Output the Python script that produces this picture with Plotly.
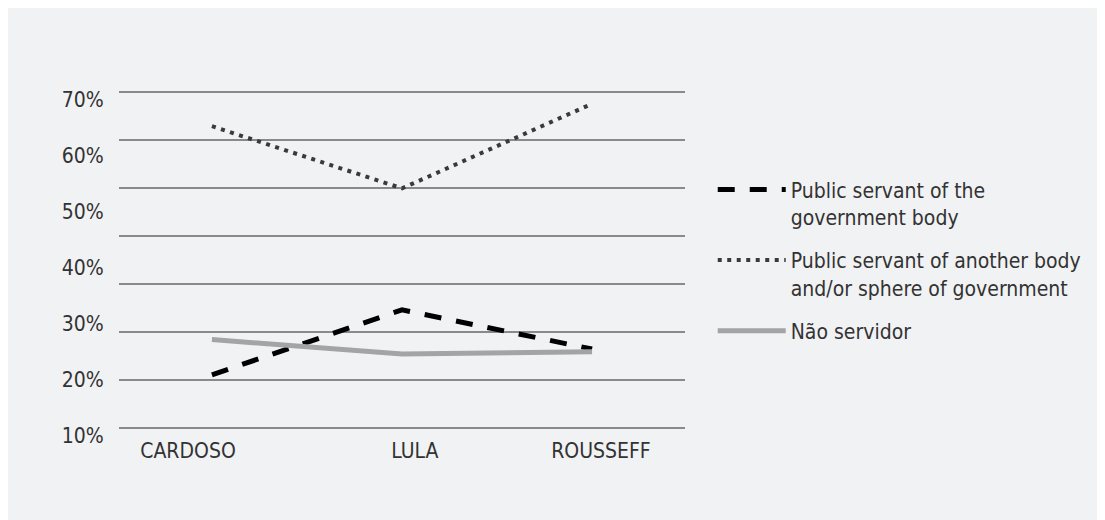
import plotly.graph_objects as go

categories = ["CARDOSO", "LULA", "ROUSSEFF"]
servant_same_body = [20.8, 32.4, 25.4]
servant_other_body = [65.2, 54.1, 69.2]
nao_servidor = [27.1, 24.5, 24.9]
y_ticks = [10, 20, 30, 40, 50, 60, 70]
y_labels = [f"{v}%" for v in y_ticks]
series_names = [
    "Public servant of the<br>government body",
    "Public servant of another body<br>and/or sphere of government",
    "Não servidor",
]

FONT = "DejaVu Sans Condensed, Liberation Sans Narrow, sans-serif"
TEXT = "#333333"
BG = "#f1f2f4"

xi = list(range(len(categories)))

fig = go.Figure()
fig.add_trace(go.Scatter(x=xi, y=servant_same_body, mode="lines", name=series_names[0],
                         legendgroup="g1",
                         line=dict(color="#000000", width=5, dash="17px,15px")))
fig.add_trace(go.Scatter(x=xi, y=servant_other_body, mode="lines", name=series_names[1],
                         legendgroup="g2",
                         line=dict(color="#3a3a3a", width=4, dash="4px,5.5px")))
fig.add_trace(go.Scatter(x=xi, y=nao_servidor, mode="lines", name=series_names[2],
                         legendgroup="g3",
                         line=dict(color="#a2a4a5", width=5)))

fig.update_layout(
    width=1100, height=514,
    margin=dict(l=111, r=423, t=72, b=86),
    paper_bgcolor=BG, plot_bgcolor=BG,
    font=dict(family=FONT, size=21, color=TEXT),
    showlegend=True,
    legend=dict(x=1.049, y=0.749, xanchor="left", yanchor="top",
                bgcolor="rgba(0,0,0,0)", valign="top",
                font=dict(family=FONT, size=21, color=TEXT),
                tracegroupgap=13, itemwidth=68),
    xaxis=dict(range=[-0.489, 2.489], showgrid=False, zeroline=False, showline=False,
               tickmode="array", tickvals=[-0.126, 1.068, 2.047], ticktext=categories,
               ticks="", ticklen=0),
    yaxis=dict(range=[9.875, 73.45], showgrid=False, zeroline=False, showline=False,
               tickmode="array", tickvals=y_ticks, ticktext=y_labels,
               ticks="outside", ticklen=10, tickcolor="rgba(0,0,0,0)",
               minor=dict(tickmode="linear", tick0=2.73, dtick=8.5714, showgrid=True,
                          gridcolor="#8a8a8a", gridwidth=1.5, ticks="")),
)

fig.write_html("out.html")
